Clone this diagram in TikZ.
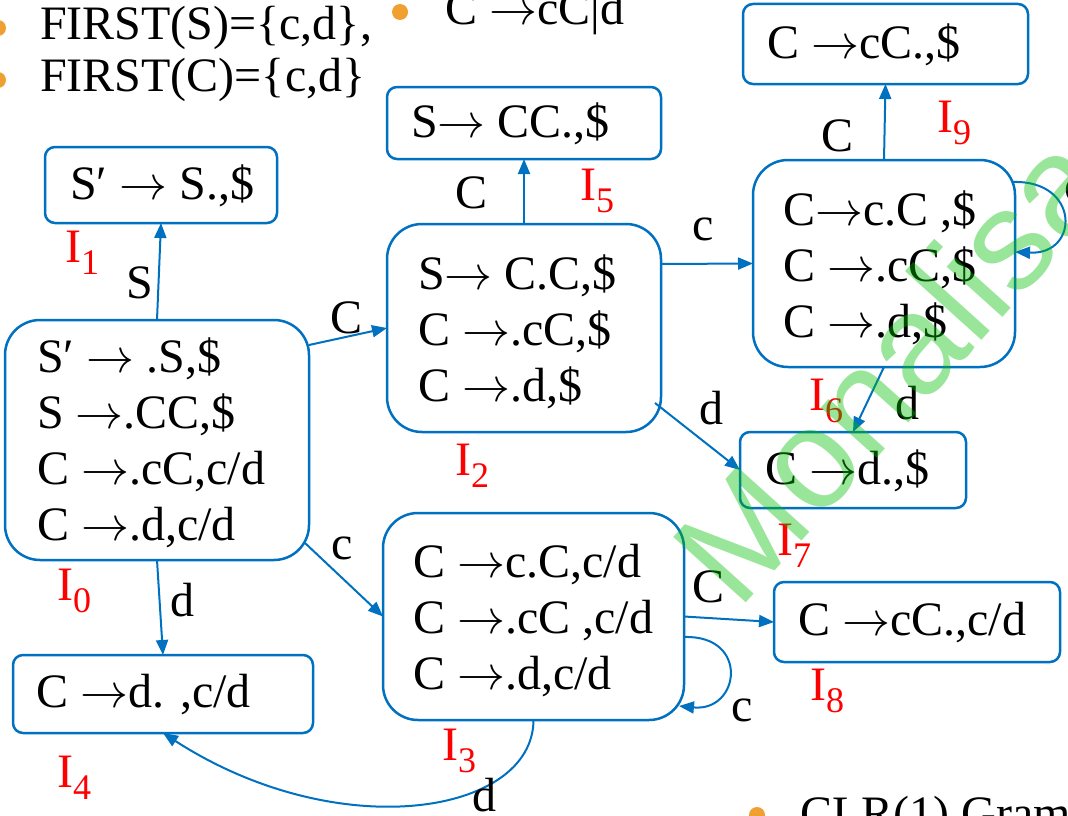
\documentclass[tikz,border=0pt]{standalone}
\usepackage{fix-cm}
\usepackage{fontspec}
\setmainfont{Liberation Serif}
\newfontfamily\wmfont{Liberation Sans}
\usetikzlibrary{arrows.meta,calc}
\definecolor{edgeblue}{RGB}{0,112,192}
\definecolor{dotorange}{RGB}{240,160,48}
\definecolor{wmgreen}{RGB}{0,190,0}
% state name: I with a lowered, smaller index
\newcommand{\stname}[1]{I\raisebox{-12pt}{\fontsize{36}{36}\selectfont #1}}
% long thin production arrow
\newcommand{\arr}{\ensuremath{\rightarrow}}
\begin{document}
\begin{tikzpicture}[x=1pt,y=-1pt,
  every node/.style={font=\fontsize{48}{56}\selectfont},
  statebox/.style={draw=edgeblue, line width=2.5pt, outer sep=0pt, inner sep=0pt},
  bigbox/.style={statebox, rounded corners=35pt},
  smallbox/.style={statebox, rounded corners=10pt},
  items/.style={anchor=west, inner sep=0pt, align=left},
  sname/.style={anchor=base west, inner sep=0pt, text=red},
  elabel/.style={inner sep=0pt, anchor=center},
  edge/.style={draw=edgeblue, line width=2pt, -{Triangle[length=15pt,width=12pt]}},
  plain/.style={anchor=base west, inner sep=0pt},
  dot/.style={fill=dotorange}]
\useasboundingbox (0,0) rectangle (1068,816);

% header lines
\fill[dot] (-2,28) circle[radius=8];
\fill[dot] (-2,80) circle[radius=8];
\node[plain] (first1) at (40,40) {FIRST(S)=\{c,d\},};
\node[plain] (first2) at (40,92) {FIRST(C)=\{c,d\}};
\fill[dot] (400,12) circle[radius=8];
\node[plain] (rule) at (445,25) {C \arr cC|d};
\fill[dot] (757,815) circle[radius=8];
\node[plain] (title) at (800,829) {CLR(1) Grammar};

% states
\node[bigbox, minimum width=304pt, minimum height=240pt] (I0) at (157,440) {};
\node[items] (I0t) at (37,443) {S′ \arr\ .S,\$\\S \arr.CC,\$\\C \arr.cC,c/d\\C \arr.d,c/d};
\node[smallbox, minimum width=232pt, minimum height=76pt] (I1) at (161,185) {};
\node[items] (I1t) at (70,186) {S′ \arr\ S.,\$};
\node[bigbox, minimum width=274pt, minimum height=208pt] (I2) at (524,328) {};
\node[items] (I2t) at (418,332) {S\arr\ C.C,\$\\C \arr.cC,\$\\C \arr.d,\$};
\node[smallbox, minimum width=274pt, minimum height=72pt] (I5) at (524,123) {};
\node[items] (I5t) at (411,124) {S\arr\ CC.,\$};
\node[smallbox, minimum width=285pt, minimum height=80pt] (I9) at (885.5,44) {};
\node[items] (I9t) at (767,45) {C \arr cC.,\$};
\node[bigbox, minimum width=262pt, minimum height=207pt] (I6) at (884,263.5) {};
\node[items] (I6t) at (783,268) {C\arr c.C ,\$\\C \arr.cC,\$\\C \arr.d,\$};
\node[smallbox, minimum width=226pt, minimum height=76pt] (I7) at (853,470) {};
\node[items] (I7t) at (765,471) {C \arr d.,\$};
\node[bigbox, minimum width=301pt, minimum height=207pt] (I3) at (533.5,616.5) {};
\node[items] (I3t) at (413,621) {C \arr c.C,c/d\\C \arr.cC ,c/d\\C \arr.d,c/d};
\node[smallbox, minimum width=286pt, minimum height=80pt] (I8) at (917,622) {};
\node[items] (I8t) at (798,623) {C \arr cC.,c/d};
\node[smallbox, minimum width=300pt, minimum height=78pt] (I4) at (163,694) {};
\node[items] (I4t) at (36,695) {C \arr d. ,c/d};

% state names
\node[sname] (n0) at (57,600) {\stname{0}};
\node[sname] (n1) at (65,262) {\stname{1}};
\node[sname] (n2) at (455,475) {\stname{2}};
\node[sname] (n3) at (442,760) {\stname{3}};
\node[sname] (n4) at (57,787) {\stname{4}};
\node[sname] (n5) at (580,200) {\stname{5}};
\node[sname] (n6) at (809,410) {\stname{6}};
\node[sname] (n7) at (777,555) {\stname{7}};
\node[sname] (n8) at (810,700) {\stname{8}};
\node[sname] (n9) at (937,132) {\stname{9}};

% transitions
\draw[edge] (I0.north) -- (I1.south);
\draw[edge] ($(I0.north east)+(0,25)$) -- (I2.west);
\draw[edge] ($(I0.south east)+(-4,-17)$) -- (I3.west);
\draw[edge] (I0.south) -- (I4.north);
\draw[edge] (I2.north) -- (I5.south);
\draw[edge] ($(I2.north east)+(0,40)$) -- (I6.west);
\draw[edge] ($(I2.south east)+(-6,-29)$) -- (I7.west);
\draw[edge] (I6.north) -- (I9.south);
\draw[edge] (I6.south) -- (I7.north);
\draw[edge] ($(I6.north east)+(-2,22)$) .. controls (1080,180) and (1080,255) .. ($(I6.east)+(0,-11.5)$);
\draw[edge] (I3.east) -- (I8.west);
\draw[edge] ($(I3.east)+(0,20.5)$) .. controls (750,635) and (740,712) .. ($(I3.south east)+(-5,-14)$);
\draw[edge] (I3.south) .. controls (533,815) and (338,846) .. (I4.south);

% transition symbols
\node[elabel] (lS) at (140,283) {S};
\node[elabel] (lC02) at (347,318) {C};
\node[elabel] (lc03) at (342,548) {c};
\node[elabel] (ld04) at (182,600) {d};
\node[elabel] (lC25) at (472,193) {C};
\node[elabel] (lc26) at (703,229) {c};
\node[elabel] (ld27) at (711,408) {d};
\node[elabel] (lC69) at (837,136) {C};
\node[elabel] (ld67) at (907,403) {d};
\node[elabel] (lc66) at (1075,190) {c};
\node[elabel] (lC38) at (708,587) {C};
\node[elabel] (lc33) at (742,710) {c};
\node[elabel] (ld34) at (484,795) {d};

% overlay text
\node[anchor=base west, inner sep=0pt, rotate=48, text=wmgreen, text opacity=0.4,
      font=\wmfont\fontsize{142}{142}\selectfont] (wm) at (738,612) {Monalisac};
\end{tikzpicture}
\end{document}
